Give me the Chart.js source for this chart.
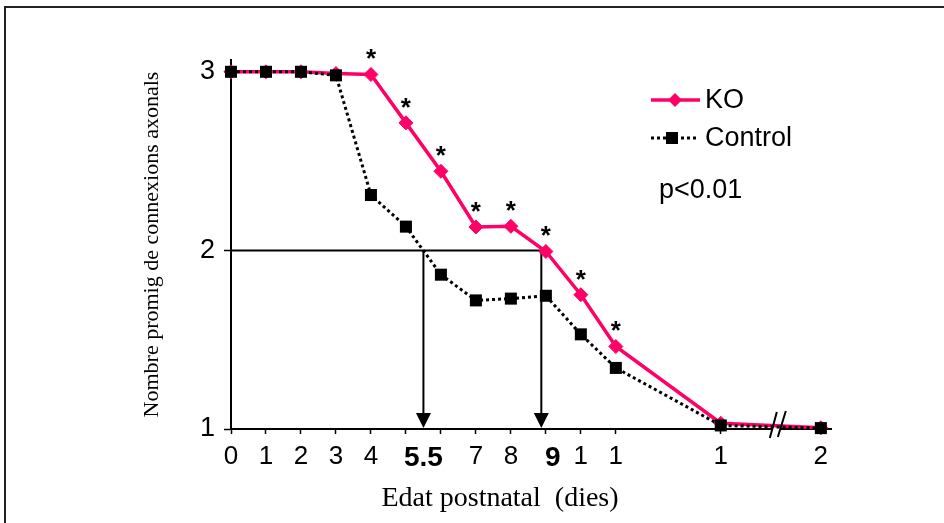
<!DOCTYPE html>
<html><head><meta charset="utf-8">
<script src="https://cdn.jsdelivr.net/npm/chart.js@4.4.0/dist/chart.umd.min.js"></script>
<style>html,body{margin:0;padding:0;background:#fff;}#wrap{width:944px;height:523px;position:relative;}canvas{display:block;}</style>
</head><body><div id="wrap"><canvas id="c" width="944" height="523"></canvas></div>
<script>
// ---- data ----
const days = [0, 1, 2, 3, 4, 5, 6, 7, 8, 9, 10, 11, 14, 21];
// position of each day on the (broken) x axis: day 21 sits after the axis break
const axisPos = [0, 1, 2, 3, 4, 5, 6, 7, 8, 9, 10, 11, 14, 16.86];
const koValues = [3.0, 3.0, 3.0, 2.99, 2.985, 2.714, 2.443, 2.131, 2.135, 1.994, 1.752, 1.462, 1.032, 1.007];
const controlValues = [3.0, 3.0, 3.0, 2.98, 2.31, 2.133, 1.864, 1.72, 1.73, 1.746, 1.53, 1.342, 1.02, 1.005];
const significant = [false, false, false, false, true, true, true, true, true, true, true, true, false, false];
const xTickPos = [0, 1, 2, 3, 4, 5, 5.5, 6, 7, 8, 9, 9.2, 10, 11, 14, 16.86];
const xTickLabels = ['0', '1', '2', '3', '4', '', '5.5', '', '7', '8', '', '9', '1', '1', '1', '2'];
const boldTickLabels = ['5.5', '9'];
const labelOnlyTicks = [5.5, 9.2];
const yTickValues = [1, 2, 3];
const refLevel = 2;
const refArrows = [5.5, 8.87];
const axisBreakAt = 15.63;
const seriesNames = ['KO', 'Control'];
const pText = 'p<0.01';
const xTitle = 'Edat postnatal  (dies)';
const yTitle = 'Nombre promig de connexions axonals';

const PINK = '#FF0066';
const SANS = '"Liberation Sans", Arial, sans-serif';
const SERIF = '"Liberation Serif", "Times New Roman", serif';

const toPts = vals => vals.map((v, i) => ({x: axisPos[i], y: v}));

const decor = {
  id: 'decor',
  beforeDatasetsDraw(chart) {
    const {ctx, scales: {x, y}} = chart;
    ctx.save();
    ctx.strokeStyle = '#000';
    ctx.fillStyle = '#000';
    ctx.lineWidth = 2;
    const yRef = y.getPixelForValue(refLevel);
    const yBase = y.getPixelForValue(1);
    const xEnd = x.getPixelForValue(Math.max(...refArrows));
    ctx.beginPath();
    ctx.moveTo(x.getPixelForValue(0), yRef);
    ctx.lineTo(xEnd, yRef);
    ctx.stroke();
    refArrows.forEach(v => {
      const px = x.getPixelForValue(v);
      ctx.beginPath();
      ctx.moveTo(px, yRef);
      ctx.lineTo(px, yBase - 12);
      ctx.stroke();
      ctx.beginPath();
      ctx.moveTo(px - 7.5, yBase - 16);
      ctx.lineTo(px + 7.5, yBase - 16);
      ctx.lineTo(px, yBase - 1);
      ctx.closePath();
      ctx.fill();
    });
    // axis break gap
    const bx = x.getPixelForValue(axisBreakAt);
    ctx.fillStyle = '#fff';
    ctx.beginPath();
    ctx.moveTo(bx - 8, yBase + 9);
    ctx.lineTo(bx - 1, yBase - 17);
    ctx.lineTo(bx + 8, yBase - 18);
    ctx.lineTo(bx, yBase + 8);
    ctx.closePath();
    ctx.fill();
    ctx.restore();
  },
  afterDatasetsDraw(chart) {
    const {ctx, scales: {x, y}} = chart;
    ctx.save();
    // asterisks
    ctx.fillStyle = '#000';
    ctx.font = 'bold 26px ' + SANS;
    ctx.textAlign = 'center';
    ctx.textBaseline = 'alphabetic';
    significant.forEach((s, i) => {
      if (!s) return;
      ctx.fillText('*', x.getPixelForValue(axisPos[i]), y.getPixelForValue(koValues[i]) - 7);
    });
    // break slashes
    const yBase = y.getPixelForValue(1);
    const bx = x.getPixelForValue(axisBreakAt);
    ctx.strokeStyle = '#000';
    ctx.lineWidth = 2;
    ctx.beginPath();
    ctx.moveTo(bx - 8, yBase + 9); ctx.lineTo(bx - 1, yBase - 17);
    ctx.moveTo(bx, yBase + 8); ctx.lineTo(bx + 8, yBase - 18);
    ctx.stroke();
    // legend
    ctx.lineWidth = 3.5;
    ctx.strokeStyle = PINK;
    ctx.beginPath(); ctx.moveTo(651, 100); ctx.lineTo(700, 100); ctx.stroke();
    ctx.fillStyle = PINK;
    ctx.beginPath();
    ctx.moveTo(675, 93); ctx.lineTo(682, 100); ctx.lineTo(675, 107); ctx.lineTo(668, 100); ctx.closePath();
    ctx.fill();
    ctx.strokeStyle = '#000';
    ctx.lineWidth = 3;
    ctx.setLineDash([3, 3]);
    ctx.beginPath(); ctx.moveTo(651, 138); ctx.lineTo(698, 138); ctx.stroke();
    ctx.setLineDash([]);
    ctx.fillStyle = '#000';
    ctx.fillRect(666, 132, 12, 12);
    ctx.font = '27px ' + SANS;
    ctx.textAlign = 'left';
    ctx.textBaseline = 'middle';
    ctx.fillText(seriesNames[0], 705, 101);
    ctx.fillText(seriesNames[1], 705, 139);
    ctx.fillText(pText, 659, 191);
    // x title
    ctx.font = '28px ' + SERIF;
    ctx.textAlign = 'center';
    ctx.fillText(xTitle, 500, 499);
    // frame
    ctx.strokeStyle = '#222';
    ctx.lineWidth = 2;
    ctx.strokeRect(5, 7, 1000, 600);
    ctx.restore();
  }
};

new Chart(document.getElementById('c'), {
  type: 'line',
  data: {
    datasets: [
      {
        label: seriesNames[1],
        data: toPts(controlValues),
        borderColor: '#000',
        borderWidth: 3,
        borderDash: [3, 3],
        pointStyle: 'rect',
        pointRadius: 8.5,
        pointBackgroundColor: '#000',
        pointBorderColor: '#000',
        pointBorderWidth: 0,
        tension: 0,
        clip: false
      },
      {
        label: seriesNames[0],
        data: toPts(koValues),
        borderColor: PINK,
        borderWidth: 3.5,
        pointStyle: 'rectRot',
        pointRadius: 7,
        pointBackgroundColor: PINK,
        pointBorderColor: PINK,
        pointBorderWidth: 1,
        tension: 0,
        clip: false
      }
    ]
  },
  options: {
    responsive: false,
    animation: false,
    devicePixelRatio: 1,
    layout: {padding: {top: 60, right: 113, left: 0, bottom: 0}},
    plugins: {legend: {display: false}, tooltip: {enabled: false}},
    scales: {
      x: {
        type: 'linear', min: 0, max: 17.15,
        afterBuildTicks: s => { s.ticks = xTickPos.map(v => ({value: v})); },
        afterFit: s => { s.height = 94; },
        grid: {
          drawOnChartArea: false, drawTicks: true, tickLength: 5, tickWidth: 1.5,
          tickColor: c => (c.tick && labelOnlyTicks.includes(c.tick.value)) ? 'rgba(0,0,0,0)' : '#000'
        },
        border: {color: '#000', width: 2},
        ticks: {
          autoSkip: false, maxRotation: 0, minRotation: 0, padding: 7, color: '#000',
          font: c => boldTickLabels.includes(xTickLabels[c.index]) ? {family: SANS, size: 28, weight: 'bold'} : {family: SANS, size: 26},
          callback: (v, i) => xTickLabels[i]
        }
      },
      y: {
        type: 'linear', min: 1, max: 3.066,
        afterBuildTicks: s => { s.ticks = yTickValues.map(v => ({value: v})); },
        afterFit: s => { s.width = 231; },
        grid: {drawOnChartArea: false, drawTicks: true, tickLength: 7, tickWidth: 1.5, tickColor: '#000'},
        border: {color: '#000', width: 2},
        ticks: {padding: 9, color: '#000', font: {family: SANS, size: 27}, callback: v => String(v)},
        title: {display: true, text: yTitle, color: '#000', font: {family: SERIF, size: 22}, padding: {top: 139, bottom: 0}}
      }
    }
  },
  plugins: [decor]
});
</script></body></html>
